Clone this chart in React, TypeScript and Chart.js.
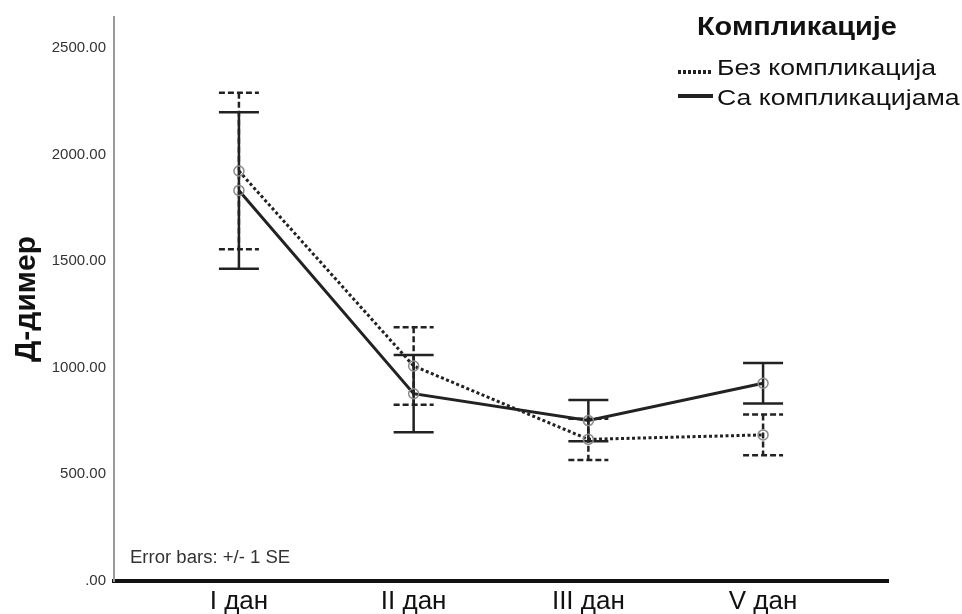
import React, { useEffect, useRef } from "react";
import { Chart, registerables } from "chart.js";

Chart.register(...registerables);

const categories = ["I дан", "II дан", "III дан", "V дан"];
const bezMean = [1922, 1008, 664, 685];
const bezSE = [367, 182, 97, 95];
const saMean = [1831, 878, 752, 927];
const saSE = [367, 181, 97, 95];
const yTicks = [0, 500, 1000, 1500, 2000, 2500];

const FONT = "'Liberation Sans', Arial, sans-serif";

function stretchedText(ctx: any, text: string, x: number, y: number, sx: number) {
  ctx.save();
  ctx.translate(x, y);
  ctx.scale(sx, 1);
  ctx.fillText(text, 0, 0);
  ctx.restore();
}

const errorBarPlugin = {
  id: "errorBars",
  beforeDatasetsDraw(chart: any) {
    const { ctx, scales } = chart;
    const xs = scales.x;
    const ys = scales.y;
    const series = [
      { mean: bezMean, se: bezSE, dash: [6, 3] },
      { mean: saMean, se: saSE, dash: [] },
    ];
    ctx.save();
    ctx.strokeStyle = "#222";
    ctx.lineWidth = 2.5;
    series.forEach((s) => {
      ctx.setLineDash(s.dash);
      s.mean.forEach((m, i) => {
        const x = xs.getPixelForValue(i);
        const yTop = ys.getPixelForValue(m + s.se[i]);
        const yBot = ys.getPixelForValue(m - s.se[i]);
        ctx.beginPath();
        ctx.moveTo(x, yTop);
        ctx.lineTo(x, yBot);
        ctx.moveTo(x - 20, yTop);
        ctx.lineTo(x + 20, yTop);
        ctx.moveTo(x - 20, yBot);
        ctx.lineTo(x + 20, yBot);
        ctx.stroke();
      });
    });
    ctx.restore();
  },
  afterDraw(chart: any) {
    const { ctx } = chart;
    ctx.save();
    ctx.textBaseline = "alphabetic";
    ctx.textAlign = "left";
    // Error bars note
    ctx.fillStyle = "#333";
    ctx.font = `18px ${FONT}`;
    stretchedText(ctx, "Error bars: +/- 1 SE", 130, 563, 1.03);
    // Legend
    ctx.fillStyle = "#111";
    ctx.font = `bold 25px ${FONT}`;
    stretchedText(ctx, "Компликације", 697, 35, 1.155);
    ctx.font = `22px ${FONT}`;
    stretchedText(ctx, "Без компликација", 717, 75, 1.21);
    stretchedText(ctx, "Са компликацијама", 717, 105, 1.21);
    ctx.strokeStyle = "#222";
    ctx.lineWidth = 4;
    ctx.setLineDash([3, 2]);
    ctx.beginPath();
    ctx.moveTo(678, 72);
    ctx.lineTo(711, 72);
    ctx.stroke();
    ctx.setLineDash([]);
    ctx.beginPath();
    ctx.moveTo(678, 96);
    ctx.lineTo(713, 96);
    ctx.stroke();
    ctx.restore();
  },
};

export default function App() {
  const ref = useRef<HTMLCanvasElement | null>(null);
  useEffect(() => {
    if (!ref.current) return;
    const chart = new Chart(ref.current, {
      type: "line",
      data: {
        datasets: [
          {
            label: "Без компликација",
            data: bezMean.map((v, i) => ({ x: i, y: v })),
            borderColor: "#222",
            borderWidth: 3,
            borderDash: [3, 2.5],
            pointRadius: 5,
            pointBorderColor: "#8a8a8a",
            pointBackgroundColor: "rgba(0,0,0,0)",
            pointBorderWidth: 1.5,
            tension: 0,
          },
          {
            label: "Са компликацијама",
            data: saMean.map((v, i) => ({ x: i, y: v })),
            borderColor: "#222",
            borderWidth: 3,
            pointRadius: 5,
            pointBorderColor: "#8a8a8a",
            pointBackgroundColor: "rgba(0,0,0,0)",
            pointBorderWidth: 1.5,
            tension: 0,
          },
        ],
      },
      options: {
        animation: false,
        responsive: false,
        maintainAspectRatio: false,
        layout: { padding: { top: 13, right: 74, left: 0, bottom: 0 } },
        plugins: { legend: { display: false }, tooltip: { enabled: false } },
        scales: {
          x: {
            type: "linear",
            min: -0.715,
            max: 3.715,
            afterBuildTicks: (scale: any) => {
              scale.ticks = categories.map((_, i) => ({ value: i }));
            },
            afterFit: (scale: any) => {
              scale.height = 33;
            },
            grid: { display: false, drawTicks: false },
            border: { display: true, color: "#111", width: 4 },
            ticks: {
              color: "#111",
              font: { family: FONT, size: 26 },
              padding: 5,
              maxRotation: 0,
              autoSkip: false,
              callback: (v: any) => categories[v as number] ?? "",
            },
          },
          y: {
            min: 0,
            max: 2644,
            afterBuildTicks: (scale: any) => {
              scale.ticks = yTicks.map((v) => ({ value: v }));
            },
            afterFit: (scale: any) => {
              scale.width = 114;
            },
            grid: { display: false, drawTicks: false },
            border: { display: true, color: "#999", width: 2 },
            title: {
              display: true,
              text: "Д-димер",
              color: "#111",
              font: { family: FONT, size: 30, weight: "bold" },
              padding: { top: 9, bottom: 0 },
            },
            ticks: {
              color: "#333",
              font: { family: FONT, size: 15 },
              padding: 8,
              callback: (v: any) => (v === 0 ? ".00" : Number(v).toFixed(2)),
            },
          },
        },
      },
      plugins: [errorBarPlugin],
    });
    return () => chart.destroy();
  }, []);
  return (
    <div style={{ position: "absolute", left: 0, top: 0, width: 962, height: 614, background: "#fff" }}>
      <canvas ref={ref} width={962} height={614} style={{ display: "block" }} />
    </div>
  );
}
